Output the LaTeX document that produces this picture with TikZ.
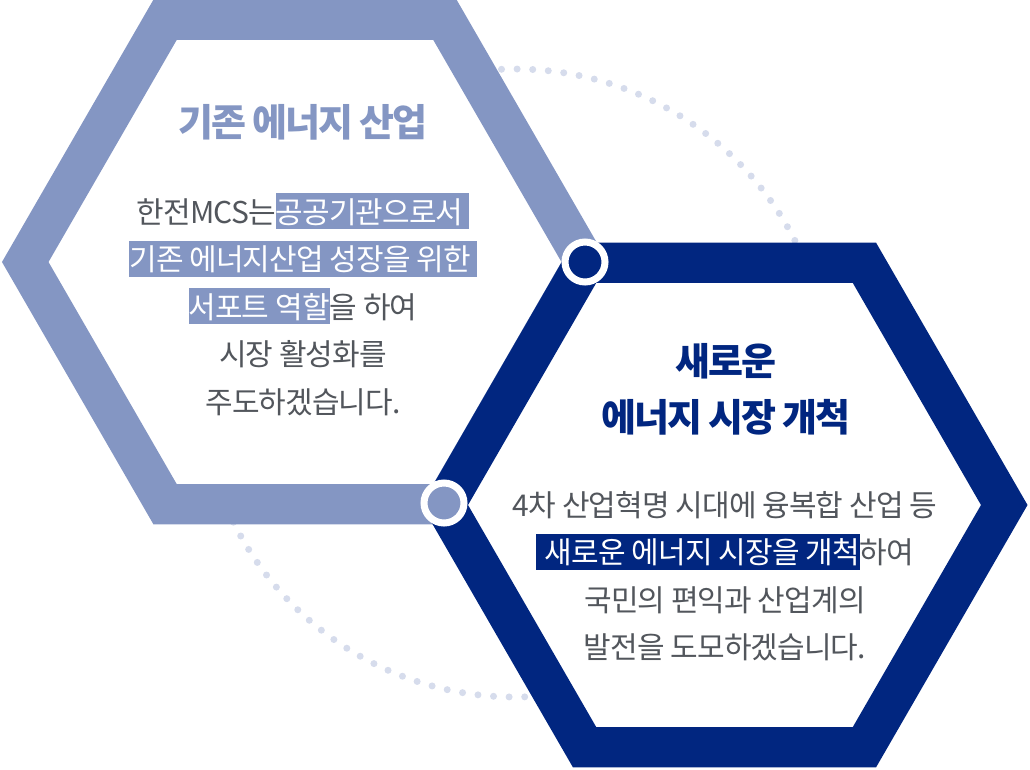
\documentclass[tikz,border=0pt]{standalone}
\usepackage{fontspec}
\newfontfamily\krbody[LetterSpace=-3]{Noto Sans CJK KR}
\newfontfamily\krhead[LetterSpace=-6]{Noto Sans CJK KR}

\definecolor{oldblue}{RGB}{132,150,195}
\definecolor{newblue}{RGB}{1,38,128}
\definecolor{dotgrey}{RGB}{214,220,236}
\definecolor{bodygrey}{RGB}{82,86,92}

\newcommand{\hexrad}{279.75}
\newcommand{\lstrut}{\rule[-6pt]{0pt}{36pt}}
\newcommand{\hlold}[1]{{\setlength{\fboxsep}{0pt}\colorbox{oldblue}{\lstrut\textcolor{white}{#1}}}}
\newcommand{\hlnew}[1]{{\setlength{\fboxsep}{0pt}\colorbox{newblue}{\lstrut\textcolor{white}{#1}}}}

\begin{document}
\begin{tikzpicture}[x=1pt, y=-1pt,
  hexband/.style={line width=40.3pt, line join=miter, fill=white},
  joint/.style={circle, draw=white, line width=7pt, minimum size=40pt, inner sep=0pt},
  dotring/.style={draw=dotgrey, line width=7pt, line cap=round, dash pattern=on 0pt off 15.6pt},
  head/.style={font=\krhead\bfseries\fontsize{38}{56}\selectfont, align=center, inner sep=0pt},
  body/.style={font=\krbody\fontsize{30}{47.5}\selectfont, text=bodygrey, align=center, inner sep=0pt}
]
\useasboundingbox (0,0) rectangle (1030,769);
\coordinate (oldc) at (305,262);
\coordinate (newc) at (724.5,505);
\coordinate (ringc) at (515,383);

% dotted ring, hidden behind both hexagons
\draw[dotring] (ringc) circle (314);

\draw[hexband, draw=oldblue] (oldc) +(0:\hexrad) -- +(60:\hexrad) -- +(120:\hexrad)
  -- +(180:\hexrad) -- +(240:\hexrad) -- +(300:\hexrad) -- cycle;
\draw[hexband, draw=newblue] (newc) +(0:\hexrad) -- +(60:\hexrad) -- +(120:\hexrad)
  -- +(180:\hexrad) -- +(240:\hexrad) -- +(300:\hexrad) -- cycle;

\node[joint, fill=newblue] (jtop) at (585,262) {};
\node[joint, fill=oldblue] (jbot) at (444,503) {};

\node[head, text=oldblue, anchor=base] (oldtitle) at (303,136) {기존 에너지 산업};
\node[body, anchor=north] (oldtext) at (303,193)
  {\lstrut 한전MCS는\hlold{공공기관으로서 }\\
   \hlold{기존 에너지산업 성장을 위한 }\\
   \hlold{서포트 역할}을 하여\\
   시장 활성화를\\
   주도하겠습니다.};

\node[head, text=newblue, anchor=north] (newtitle) at (726,339)
  {\rule{0pt}{36pt}새로운\\에너지 시장 개척};
\node[body, anchor=north] (newtext) at (725,486)
  {\lstrut 4차 산업혁명 시대에 융복합 산업 등\\
   \hlnew{\hspace{0.3em}새로운 에너지 시장을 개척}하여\\
   국민의 편익과 산업계의\\
   발전을 도모하겠습니다.};
\end{tikzpicture}
\end{document}
